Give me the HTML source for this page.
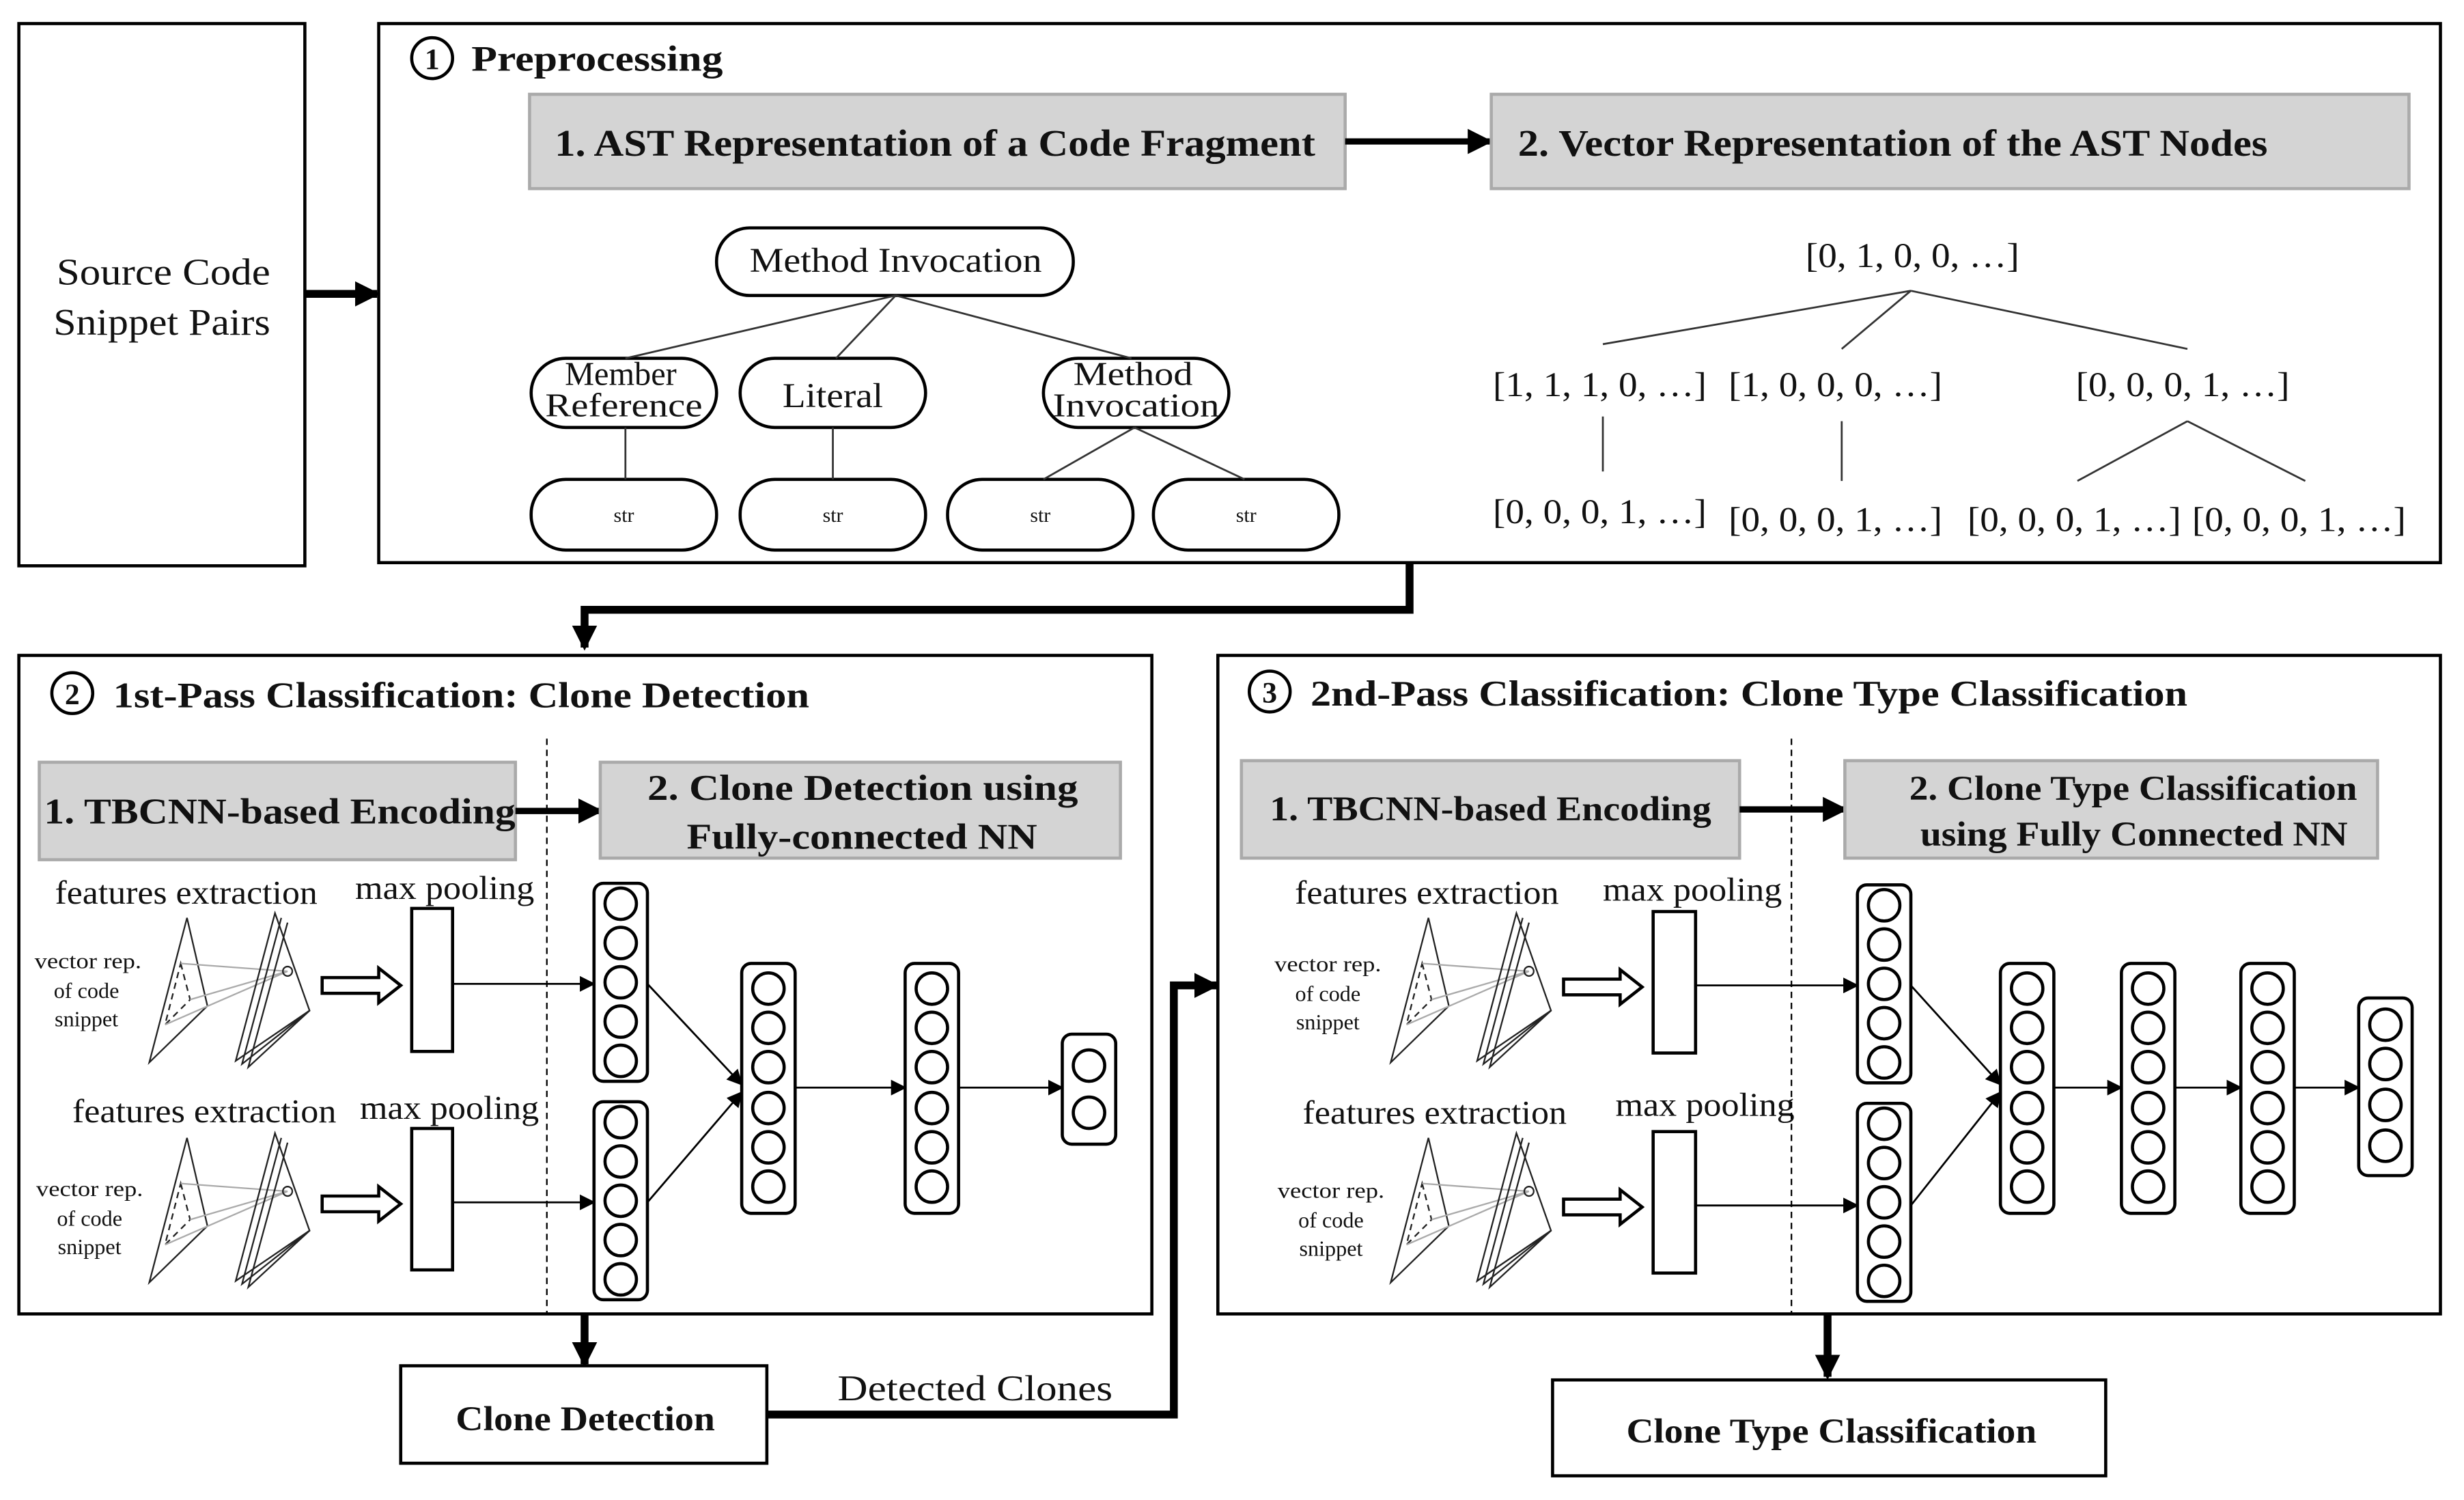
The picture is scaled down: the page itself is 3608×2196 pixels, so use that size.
<!DOCTYPE html>
<html><head><meta charset="utf-8"><style>
html,body{margin:0;padding:0;background:#fff}
svg{display:block}
text{font-family:"Liberation Serif",serif;fill:#111}
.b{font-weight:bold}
</style></head><body>
<svg width="3608" height="2196" viewBox="0 0 1568 954.4" preserveAspectRatio="none" xmlns="http://www.w3.org/2000/svg">
<defs>
<marker id="ah" markerWidth="10" markerHeight="10" refX="9" refY="5" orient="auto" markerUnits="userSpaceOnUse">
<path d="M0,0 L10,5 L0,10 z" fill="#000"/></marker>
<marker id="ah2" markerWidth="16" markerHeight="16" refX="14" refY="8" orient="auto" markerUnits="userSpaceOnUse">
<path d="M0,0 L16,8 L0,16 z" fill="#000"/></marker>
<g id="tri" fill="none" stroke="#222" stroke-width="1">
<path d="M24,4 L0,96 L37,60 Z"/>
<path d="M20,33 L26,56 L10,72 Z" stroke-dasharray="4,3"/>
<path d="M20,33 L88,38 M26,56 L88,38 M10,72 L88,38" stroke="#aaa"/>
<path d="M80,1 L55,95 L102,63 Z"/>
<path d="M84,4 L59,97 L102,63"/>
<path d="M88,7 L63,99 L102,63"/>
<circle cx="88" cy="38" r="3"/>
</g>
<g id="hol"><path d="M0,-5 L36,-5 L36,-11 L50,0 L36,11 L36,5 L0,5 Z" fill="#fff" stroke="#000" stroke-width="2"/></g>
<g id="c5"><rect x="0" y="0" width="34" height="126" rx="6" fill="#fff" stroke="#000" stroke-width="2"/>
<circle cx="17" cy="13" r="10" fill="none" stroke="#000" stroke-width="2"/><circle cx="17" cy="38" r="10" fill="none" stroke="#000" stroke-width="2"/><circle cx="17" cy="63" r="10" fill="none" stroke="#000" stroke-width="2"/><circle cx="17" cy="88" r="10" fill="none" stroke="#000" stroke-width="2"/><circle cx="17" cy="113" r="10" fill="none" stroke="#000" stroke-width="2"/></g>
<g id="c6"><rect x="0" y="0" width="34" height="159" rx="6" fill="#fff" stroke="#000" stroke-width="2"/>
<circle cx="17" cy="16" r="10" fill="none" stroke="#000" stroke-width="2"/><circle cx="17" cy="41" r="10" fill="none" stroke="#000" stroke-width="2"/><circle cx="17" cy="66" r="10" fill="none" stroke="#000" stroke-width="2"/><circle cx="17" cy="92" r="10" fill="none" stroke="#000" stroke-width="2"/><circle cx="17" cy="117" r="10" fill="none" stroke="#000" stroke-width="2"/><circle cx="17" cy="142" r="10" fill="none" stroke="#000" stroke-width="2"/></g>
</defs>

<!-- Source -->
<rect x="12" y="15" width="182" height="345" fill="none" stroke="#000" stroke-width="2"/>
<text x="36" y="181" font-size="24" textLength="136" lengthAdjust="spacingAndGlyphs">Source Code</text>
<text x="34" y="213" font-size="24" textLength="138" lengthAdjust="spacingAndGlyphs">Snippet Pairs</text>
<line x1="194" y1="187" x2="240" y2="187" stroke="#000" stroke-width="5" marker-end="url(#ah2)"/>

<!-- Preprocessing -->
<rect x="241" y="15" width="1312" height="343" fill="none" stroke="#000" stroke-width="2"/>
<circle cx="275" cy="37" r="13" fill="none" stroke="#000" stroke-width="2"/>
<text x="275" y="44" font-size="19" text-anchor="middle" class="b">1</text>
<text x="300" y="45" font-size="23" class="b" textLength="160" lengthAdjust="spacingAndGlyphs">Preprocessing</text>
<rect x="337" y="60" width="519" height="60" fill="#d4d4d4" stroke="#aaa" stroke-width="2"/>
<text x="353" y="99" font-size="24" class="b" textLength="484" lengthAdjust="spacingAndGlyphs">1. AST Representation of a Code Fragment</text>
<line x1="856" y1="90" x2="948" y2="90" stroke="#000" stroke-width="4" marker-end="url(#ah2)"/>
<rect x="949" y="60" width="584" height="60" fill="#d4d4d4" stroke="#aaa" stroke-width="2"/>
<text x="966" y="99" font-size="24" class="b" textLength="477" lengthAdjust="spacingAndGlyphs">2. Vector Representation of the AST Nodes</text>

<g fill="#fff" stroke="#000" stroke-width="2">
<rect x="456" y="145" width="227" height="43" rx="21"/>
<rect x="338" y="228" width="118" height="44" rx="22"/>
<rect x="471" y="228" width="118" height="44" rx="22"/>
<rect x="664" y="228" width="118" height="44" rx="22"/>
<rect x="338" y="305" width="118" height="45" rx="22"/>
<rect x="471" y="305" width="118" height="45" rx="22"/>
<rect x="603" y="305" width="118" height="45" rx="22"/>
<rect x="734" y="305" width="118" height="45" rx="22"/>
</g>
<g stroke="#333" stroke-width="1.2">
<line x1="570" y1="188" x2="398" y2="228"/><line x1="570" y1="188" x2="532" y2="228"/><line x1="570" y1="188" x2="720" y2="228"/>
<line x1="398" y1="272" x2="398" y2="305"/><line x1="530" y1="272" x2="530" y2="305"/>
<line x1="722" y1="272" x2="664" y2="305"/><line x1="722" y1="272" x2="792" y2="305"/>
</g>
<text x="477" y="173" font-size="22" textLength="186" lengthAdjust="spacingAndGlyphs">Method Invocation</text>
<text x="395" y="245" font-size="21" text-anchor="middle">Member</text>
<text x="397" y="265" font-size="21" text-anchor="middle" textLength="100" lengthAdjust="spacingAndGlyphs">Reference</text>
<text x="530" y="259" font-size="22" text-anchor="middle" textLength="64" lengthAdjust="spacingAndGlyphs">Literal</text>
<text x="721" y="245" font-size="21" text-anchor="middle" textLength="76" lengthAdjust="spacingAndGlyphs">Method</text>
<text x="723" y="265" font-size="21" text-anchor="middle" textLength="106" lengthAdjust="spacingAndGlyphs">Invocation</text>
<g font-size="13" text-anchor="middle"><text x="397" y="332">str</text><text x="530" y="332">str</text><text x="662" y="332">str</text><text x="793" y="332">str</text></g>

<g font-size="22" text-anchor="middle">
<text x="1217" y="170" textLength="136" lengthAdjust="spacingAndGlyphs">[0, 1, 0, 0, …]</text>
<text x="1018" y="252" textLength="136" lengthAdjust="spacingAndGlyphs">[1, 1, 1, 0, …]</text>
<text x="1168" y="252" textLength="136" lengthAdjust="spacingAndGlyphs">[1, 0, 0, 0, …]</text>
<text x="1389" y="252" textLength="136" lengthAdjust="spacingAndGlyphs">[0, 0, 0, 1, …]</text>
<text x="1018" y="333" textLength="136" lengthAdjust="spacingAndGlyphs">[0, 0, 0, 1, …]</text>
<text x="1168" y="338" textLength="136" lengthAdjust="spacingAndGlyphs">[0, 0, 0, 1, …]</text>
<text x="1320" y="338" textLength="136" lengthAdjust="spacingAndGlyphs">[0, 0, 0, 1, …]</text>
<text x="1463" y="338" textLength="136" lengthAdjust="spacingAndGlyphs">[0, 0, 0, 1, …]</text>
</g>
<g stroke="#333" stroke-width="1.2">
<line x1="1216" y1="185" x2="1020" y2="219"/><line x1="1216" y1="185" x2="1172" y2="222"/><line x1="1216" y1="185" x2="1392" y2="222"/>
<line x1="1020" y1="265" x2="1020" y2="300"/><line x1="1172" y1="268" x2="1172" y2="306"/>
<line x1="1392" y1="268" x2="1322" y2="306"/><line x1="1392" y1="268" x2="1467" y2="306"/>
</g>
<polyline points="897,358 897,388 372,388 372,412" fill="none" stroke="#000" stroke-width="5" marker-end="url(#ah2)"/>

<!-- Box 2 -->
<rect x="12" y="417" width="721" height="419" fill="none" stroke="#000" stroke-width="2"/>
<circle cx="46" cy="441" r="13" fill="none" stroke="#000" stroke-width="2"/>
<text x="46" y="448" font-size="19" text-anchor="middle" class="b">2</text>
<text x="72" y="450" font-size="23" class="b" textLength="443" lengthAdjust="spacingAndGlyphs">1st-Pass Classification: Clone Detection</text>
<rect x="25" y="485" width="303" height="62" fill="#d4d4d4" stroke="#aaa" stroke-width="2"/>
<text x="28" y="524" font-size="23" class="b" textLength="300" lengthAdjust="spacingAndGlyphs">1. TBCNN-based Encoding</text>
<line x1="328" y1="516" x2="382" y2="516" stroke="#000" stroke-width="4" marker-end="url(#ah2)"/>
<rect x="382" y="485" width="331" height="61" fill="#d4d4d4" stroke="#aaa" stroke-width="2"/>
<text x="412" y="509" font-size="23" class="b" textLength="274" lengthAdjust="spacingAndGlyphs">2. Clone Detection using</text>
<text x="437" y="540" font-size="23" class="b" textLength="223" lengthAdjust="spacingAndGlyphs">Fully-connected NN</text>
<line x1="348" y1="470" x2="348" y2="836" stroke="#000" stroke-width="1" stroke-dasharray="4,3"/>

<g font-size="21">
<text x="35" y="575" textLength="167" lengthAdjust="spacingAndGlyphs">features extraction</text>
<text x="226" y="572" textLength="114" lengthAdjust="spacingAndGlyphs">max pooling</text>
<text x="46" y="714" textLength="168" lengthAdjust="spacingAndGlyphs">features extraction</text>
<text x="229" y="712" textLength="114" lengthAdjust="spacingAndGlyphs">max pooling</text>
<text x="824" y="575" textLength="168" lengthAdjust="spacingAndGlyphs">features extraction</text>
<text x="1020" y="573" textLength="114" lengthAdjust="spacingAndGlyphs">max pooling</text>
<text x="829" y="715" textLength="168" lengthAdjust="spacingAndGlyphs">features extraction</text>
<text x="1028" y="710" textLength="114" lengthAdjust="spacingAndGlyphs">max pooling</text>
</g>
<g font-size="14" text-anchor="middle">
<text x="56" y="616" textLength="68" lengthAdjust="spacingAndGlyphs">vector rep.</text><text x="55" y="635">of code</text><text x="55" y="653">snippet</text>
<text x="57" y="761" textLength="68" lengthAdjust="spacingAndGlyphs">vector rep.</text><text x="57" y="780">of code</text><text x="57" y="798">snippet</text>
<text x="845" y="618" textLength="68" lengthAdjust="spacingAndGlyphs">vector rep.</text><text x="845" y="637">of code</text><text x="845" y="655">snippet</text>
<text x="847" y="762" textLength="68" lengthAdjust="spacingAndGlyphs">vector rep.</text><text x="847" y="781">of code</text><text x="847" y="799">snippet</text>
</g>
<use href="#tri" x="95" y="580"/><use href="#tri" x="95" y="720"/>
<use href="#hol" x="205" y="627"/><use href="#hol" x="205" y="766"/>
<rect x="262" y="578" width="26" height="91" fill="#fff" stroke="#000" stroke-width="2"/>
<rect x="262" y="718" width="26" height="90" fill="#fff" stroke="#000" stroke-width="2"/>
<g stroke="#000" stroke-width="1.2" fill="none">
<line x1="288" y1="626" x2="378" y2="626" marker-end="url(#ah)"/>
<line x1="288" y1="765" x2="378" y2="765" marker-end="url(#ah)"/>
<line x1="412" y1="626" x2="472" y2="690" marker-end="url(#ah)"/>
<line x1="412" y1="765" x2="472" y2="695" marker-end="url(#ah)"/>
<line x1="506" y1="692" x2="576" y2="692" marker-end="url(#ah)"/>
<line x1="610" y1="692" x2="676" y2="692" marker-end="url(#ah)"/>
</g>
<use href="#c5" x="378" y="562"/><use href="#c5" x="378" y="701"/>
<use href="#c6" x="472" y="613"/><use href="#c6" x="576" y="613"/>
<rect x="676" y="658" width="34" height="70" rx="6" fill="#fff" stroke="#000" stroke-width="2"/>
<circle cx="693" cy="678" r="10" fill="none" stroke="#000" stroke-width="2"/><circle cx="693" cy="708" r="10" fill="none" stroke="#000" stroke-width="2"/>

<line x1="372" y1="836" x2="372" y2="868" stroke="#000" stroke-width="5" marker-end="url(#ah2)"/>
<rect x="255" y="869" width="233" height="62" fill="#fff" stroke="#000" stroke-width="2"/>
<text x="290" y="910" font-size="22" class="b" textLength="165" lengthAdjust="spacingAndGlyphs">Clone Detection</text>
<polyline points="488,900 747,900 747,627 774,627" fill="none" stroke="#000" stroke-width="5" marker-end="url(#ah2)"/>
<text x="533" y="891" font-size="23" textLength="175" lengthAdjust="spacingAndGlyphs">Detected Clones</text>

<!-- Box 3 -->
<rect x="775" y="417" width="778" height="419" fill="none" stroke="#000" stroke-width="2"/>
<circle cx="808" cy="440" r="13" fill="none" stroke="#000" stroke-width="2"/>
<text x="808" y="447" font-size="19" text-anchor="middle" class="b">3</text>
<text x="834" y="449" font-size="23" class="b" textLength="558" lengthAdjust="spacingAndGlyphs">2nd-Pass Classification: Clone Type Classification</text>
<rect x="790" y="484" width="317" height="62" fill="#d4d4d4" stroke="#aaa" stroke-width="2"/>
<text x="808" y="522" font-size="22" class="b" textLength="281" lengthAdjust="spacingAndGlyphs">1. TBCNN-based Encoding</text>
<line x1="1107" y1="515" x2="1174" y2="515" stroke="#000" stroke-width="4" marker-end="url(#ah2)"/>
<rect x="1174" y="484" width="339" height="62" fill="#d4d4d4" stroke="#aaa" stroke-width="2"/>
<text x="1215" y="509" font-size="22" class="b" textLength="285" lengthAdjust="spacingAndGlyphs">2. Clone Type Classification</text>
<text x="1222" y="538" font-size="22" class="b" textLength="272" lengthAdjust="spacingAndGlyphs">using Fully Connected NN</text>
<line x1="1140" y1="470" x2="1140" y2="836" stroke="#000" stroke-width="1" stroke-dasharray="4,3"/>

<use href="#tri" x="885" y="580"/><use href="#tri" x="885" y="720"/>
<use href="#hol" x="995" y="628"/><use href="#hol" x="995" y="768"/>
<rect x="1052" y="580" width="27" height="90" fill="#fff" stroke="#000" stroke-width="2"/>
<rect x="1052" y="720" width="27" height="90" fill="#fff" stroke="#000" stroke-width="2"/>
<g stroke="#000" stroke-width="1.2" fill="none">
<line x1="1079" y1="627" x2="1182" y2="627" marker-end="url(#ah)"/>
<line x1="1079" y1="767" x2="1182" y2="767" marker-end="url(#ah)"/>
<line x1="1216" y1="627" x2="1273" y2="690" marker-end="url(#ah)"/>
<line x1="1216" y1="767" x2="1273" y2="695" marker-end="url(#ah)"/>
<line x1="1307" y1="692" x2="1350" y2="692" marker-end="url(#ah)"/>
<line x1="1384" y1="692" x2="1426" y2="692" marker-end="url(#ah)"/>
<line x1="1460" y1="692" x2="1501" y2="692" marker-end="url(#ah)"/>
</g>
<use href="#c5" x="1182" y="563"/><use href="#c5" x="1182" y="702"/>
<use href="#c6" x="1273" y="613"/><use href="#c6" x="1350" y="613"/><use href="#c6" x="1426" y="613"/>
<rect x="1501" y="635" width="34" height="113" rx="6" fill="#fff" stroke="#000" stroke-width="2"/>
<circle cx="1518" cy="652" r="10" fill="none" stroke="#000" stroke-width="2"/><circle cx="1518" cy="677" r="10" fill="none" stroke="#000" stroke-width="2"/><circle cx="1518" cy="703" r="10" fill="none" stroke="#000" stroke-width="2"/><circle cx="1518" cy="729" r="10" fill="none" stroke="#000" stroke-width="2"/>

<line x1="1163" y1="836" x2="1163" y2="876" stroke="#000" stroke-width="5" marker-end="url(#ah2)"/>
<rect x="988" y="878" width="352" height="61" fill="#fff" stroke="#000" stroke-width="2"/>
<text x="1035" y="918" font-size="22" class="b" textLength="261" lengthAdjust="spacingAndGlyphs">Clone Type Classification</text>
</svg>
</body></html>
